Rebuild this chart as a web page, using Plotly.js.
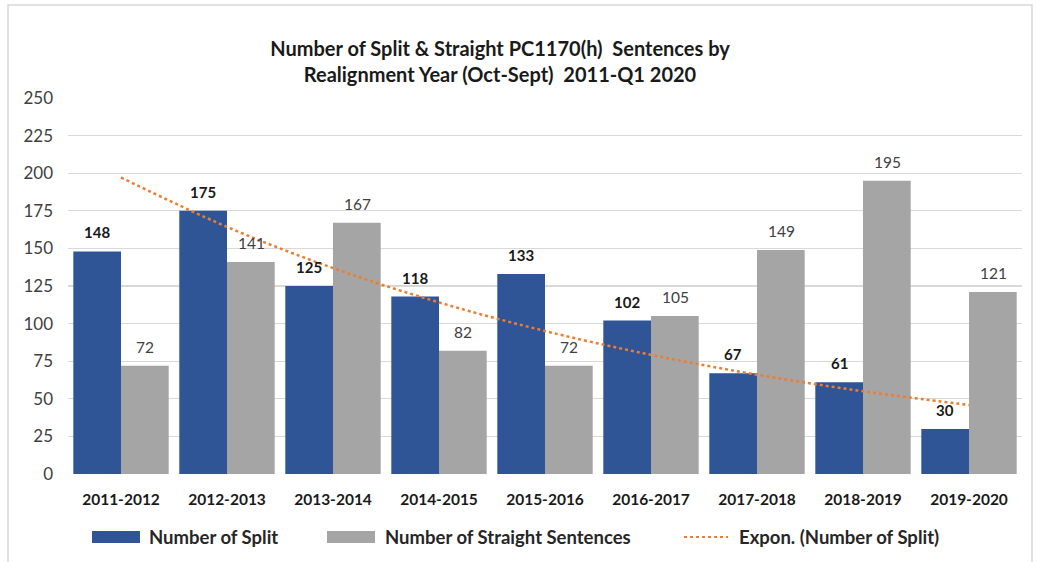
<!DOCTYPE html>
<html>
<head>
<meta charset="utf-8">
<script src="https://cdn.plot.ly/plotly-3.0.1.min.js"></script>
<style>
  html, body { margin: 0; padding: 0; background: #ffffff; }
  #chart { width: 1044px; height: 562px; }
</style>
</head>
<body>
<div id="chart"></div>
<script>
// Realignment years (Oct-Sept)
const years = ['2011-2012', '2012-2013', '2013-2014', '2014-2015', '2015-2016',
               '2016-2017', '2017-2018', '2018-2019', '2019-2020'];
// PC1170(h) sentences per year
const splitCounts = [148, 175, 125, 118, 133, 102, 67, 61, 30];
const straightCounts = [72, 141, 167, 82, 72, 105, 149, 195, 121];
const yTicks = [0, 25, 50, 75, 100, 125, 150, 175, 200, 225, 250];

const seriesNames = ['Number of Split', 'Number of Straight Sentences', 'Expon. (Number of Split)'];

const BLUE = '#2F5597';
const GREY = '#A5A5A5';
const ORANGE = '#ED7D31';
const FONT = 'Lato, "Open Sans", "Liberation Sans", sans-serif';

// Exponential least-squares trend (y = a*e^(b*x)) on the split counts, x = 1..n
function exponentialTrend(values) {
  const n = values.length;
  const xs = values.map((_, i) => i + 1);
  const ls = values.map(v => Math.log(v));
  const mx = xs.reduce((s, v) => s + v, 0) / n;
  const ml = ls.reduce((s, v) => s + v, 0) / n;
  let sxy = 0, sxx = 0;
  for (let i = 0; i < n; i++) {
    sxy += (xs[i] - mx) * (ls[i] - ml);
    sxx += (xs[i] - mx) * (xs[i] - mx);
  }
  const b = sxy / sxx;
  const lnA = ml - b * mx;
  return xs.map(x => Math.exp(lnA + b * x));
}
const splitTrend = exponentialTrend(splitCounts);

// Page geometry
const W = 1044, H = 562;
const M = { l: 68, r: 22, t: 98, b: 88 };
const plotW = W - M.l - M.r, plotH = H - M.t - M.b;
const px = x => (x - M.l) / plotW;           // pixel x -> paper x
const py = y => (H - M.b - y) / plotH;       // pixel y -> paper y

const traces = [
  {
    type: 'bar', name: seriesNames[0], x: years, y: splitCounts,
    marker: { color: BLUE }, hoverinfo: 'x+y'
  },
  {
    type: 'bar', name: seriesNames[1], x: years, y: straightCounts,
    marker: { color: GREY }, hoverinfo: 'x+y'
  },
  {
    type: 'scatter', mode: 'lines', name: seriesNames[2], x: years, y: splitTrend,
    line: { color: ORANGE, width: 2.5, dash: 'dot', shape: 'spline' }, hoverinfo: 'skip'
  }
];

// Value labels above each bar
const annotations = [];
years.forEach((yr, i) => {
  annotations.push({
    x: yr, y: splitCounts[i], xref: 'x', yref: 'y', xshift: -24, yshift: 19,
    text: String(splitCounts[i]), showarrow: false, yanchor: 'middle',
    font: { family: FONT, size: 15, color: '#1a1a1a', weight: 'bold' }
  });
  annotations.push({
    x: yr, y: straightCounts[i], xref: 'x', yref: 'y', xshift: 24, yshift: 19,
    text: String(straightCounts[i]), showarrow: false, yanchor: 'middle',
    font: { family: FONT, size: 15.5, color: '#404040' }
  });
});

// Legend row along the bottom
const legendY = 537;
const legendItems = [
  { x0: 92, x1: 140, tx: 147, kind: 'box', color: BLUE, label: seriesNames[0] },
  { x0: 327, x1: 375, tx: 383, kind: 'box', color: GREY, label: seriesNames[1] },
  { x0: 684, x1: 728, tx: 737, kind: 'line', color: ORANGE, label: seriesNames[2] }
];
const shapes = [
  // outer chart frame
  {
    type: 'rect', xref: 'paper', yref: 'paper',
    x0: px(8), x1: px(1032), y0: py(600), y1: py(5),
    line: { color: '#d9d9d9', width: 1.5 }, fillcolor: 'rgba(0,0,0,0)', layer: 'below'
  }
];
legendItems.forEach(it => {
  if (it.kind === 'box') {
    shapes.push({
      type: 'rect', xref: 'paper', yref: 'paper',
      x0: px(it.x0), x1: px(it.x1), y0: py(legendY + 6), y1: py(legendY - 6),
      fillcolor: it.color, line: { width: 0 }
    });
  } else {
    shapes.push({
      type: 'line', xref: 'paper', yref: 'paper',
      x0: px(it.x0), x1: px(it.x1), y0: py(legendY), y1: py(legendY),
      line: { color: it.color, width: 2, dash: 'dot' }
    });
  }
  annotations.push({
    xref: 'paper', yref: 'paper', x: px(it.tx), y: py(legendY),
    xanchor: 'left', yanchor: 'middle', showarrow: false, text: it.label,
    font: { family: FONT, size: 18.5, color: '#262626', weight: 'bold' }
  });
});

const layout = {
  width: W, height: H,
  margin: M,
  paper_bgcolor: '#ffffff', plot_bgcolor: '#ffffff',
  font: { family: FONT, color: '#404040' },
  title: {
    text: 'Number of Split &amp; Straight PC1170(h)  Sentences by<br>Realignment Year (Oct-Sept)  2011-Q1 2020',
    font: { family: FONT, size: 20, color: '#1a1a1a', weight: 'bold' },
    x: px(500), xanchor: 'center', xref: 'paper',
    y: 1 - 56 / H, yanchor: 'middle'
  },
  barmode: 'group', bargap: 0.1, bargroupgap: 0,
  showlegend: false,
  xaxis: {
    type: 'category', showgrid: false, zeroline: false, showline: false,
    ticks: '', ticklabelstandoff: 14,
    tickfont: { family: FONT, size: 15.5, color: '#1a1a1a', weight: 'bold' }
  },
  yaxis: {
    range: [0, 250], tickvals: yTicks, ticktext: yTicks.map(String),
    showgrid: true, gridcolor: '#d9d9d9', gridwidth: 1.2,
    zeroline: false, showline: false, ticks: '', ticklabelstandoff: 14,
    tickfont: { family: FONT, size: 17, color: '#404040' }
  },
  annotations: annotations,
  shapes: shapes
};

Plotly.newPlot('chart', traces, layout, { displayModeBar: false, staticPlot: true });
</script>
</body>
</html>
